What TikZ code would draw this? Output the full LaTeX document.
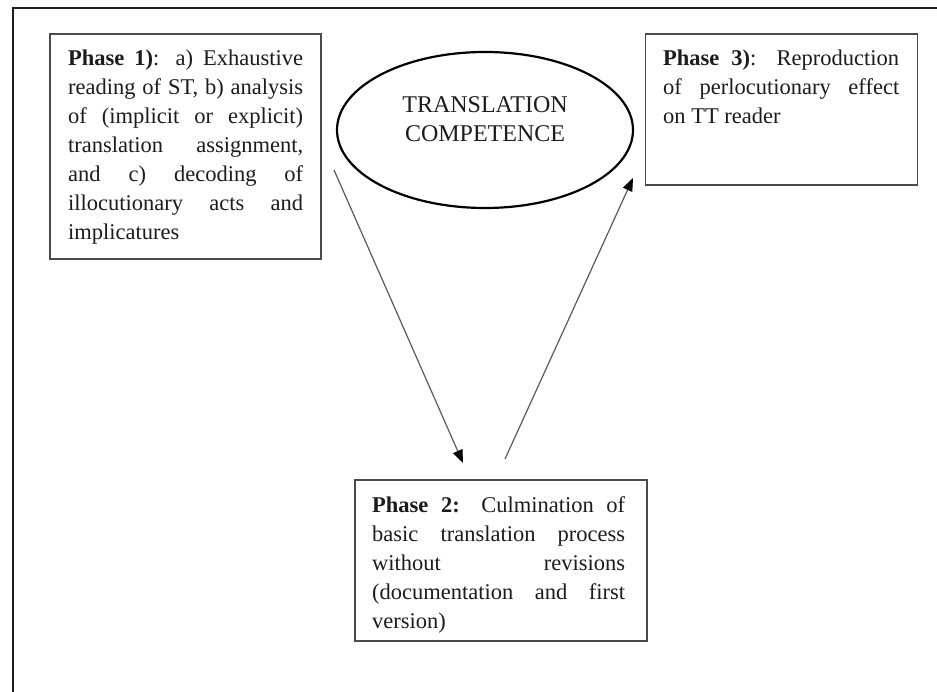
\documentclass[tikz,border=0pt]{standalone}
\usepackage{fontspec}
\setmainfont{Liberation Serif}
\usetikzlibrary{arrows.meta,shapes.geometric}

\definecolor{framecol}{HTML}{1E1E1E}
\definecolor{boxcol}{HTML}{4A4A4A}
\definecolor{inkcol}{HTML}{1C1C1C}
\definecolor{arrowcol}{HTML}{5A5A5A}

\tikzset{
  phasebox/.style={draw=boxcol, line width=1.5pt, rectangle, inner sep=0pt},
  phasetext/.style={inner sep=0pt, text=inkcol, align=justify,
    font={\fontsize{22.5}{29}\selectfont\tolerance=10000\hbadness=10000}},
  hubtext/.style={inner sep=0pt, text=inkcol, align=center,
    font={\fontsize{24}{29}\selectfont}},
  hub/.style={draw=black, line width=2.2pt, ellipse, inner sep=0pt},
  flow/.style={draw=arrowcol, line width=1.2pt,
    -{Triangle[length=13pt,width=10pt,color=black]}},
}

\begin{document}
\begin{tikzpicture}[x=1pt,y=-1pt]
\useasboundingbox (0,0) rectangle (937,692);
\fill[white] (0,0) rectangle (937,692);

% outer frame (top and left edges)
\draw[framecol, line width=2.6pt] (937,8) -- (13,8) -- (13,692);

% phase boxes
\node[phasebox, minimum width=271pt, minimum height=225pt] (p1) at (185.5,146.5) {};
\node[phasebox, minimum width=272pt, minimum height=151pt] (p3) at (781.7,109.5) {};
\node[phasebox, minimum width=292pt, minimum height=161pt] (p2) at (501,560.5) {};

% competence ellipse
\node[hub, minimum width=296pt, minimum height=156pt] (tc) at (485,130) {};
\node[hubtext, anchor=north] (tct) at (485,96.5) {TRANSLATION\\COMPETENCE};

% texts
\node[phasetext, text width=235pt, anchor=north west] (p1t) at (68,49.5)
  {\textbf{Phase 1)}: a) Exhaustive\linebreak
   reading of ST, b) analysis\linebreak
   of (implicit or explicit)\linebreak
   translation assignment,\linebreak
   and c) decoding of\linebreak
   illocutionary acts and\linebreak
   implicatures};
\node[phasetext, text width=236pt, anchor=north west] (p3t) at (663,49.5)
  {\textbf{Phase 3)}: Reproduction\linebreak
   of perlocutionary effect\linebreak
   on TT reader};
\node[phasetext, text width=253pt, anchor=north west] (p2t) at (372,496.5)
  {\textbf{Phase 2:} Culmination of\linebreak
   basic translation process\linebreak
   without revisions\linebreak
   (documentation and first\linebreak
   version)};

% arrows between the phases
\coordinate (a1s) at (334,170);
\coordinate (a1e) at (463,463);
\coordinate (a2s) at (505,459);
\coordinate (a2e) at (633,178);
\draw[flow] (a1s) -- (a1e);
\draw[flow] (a2s) -- (a2e);
\end{tikzpicture}
\end{document}
